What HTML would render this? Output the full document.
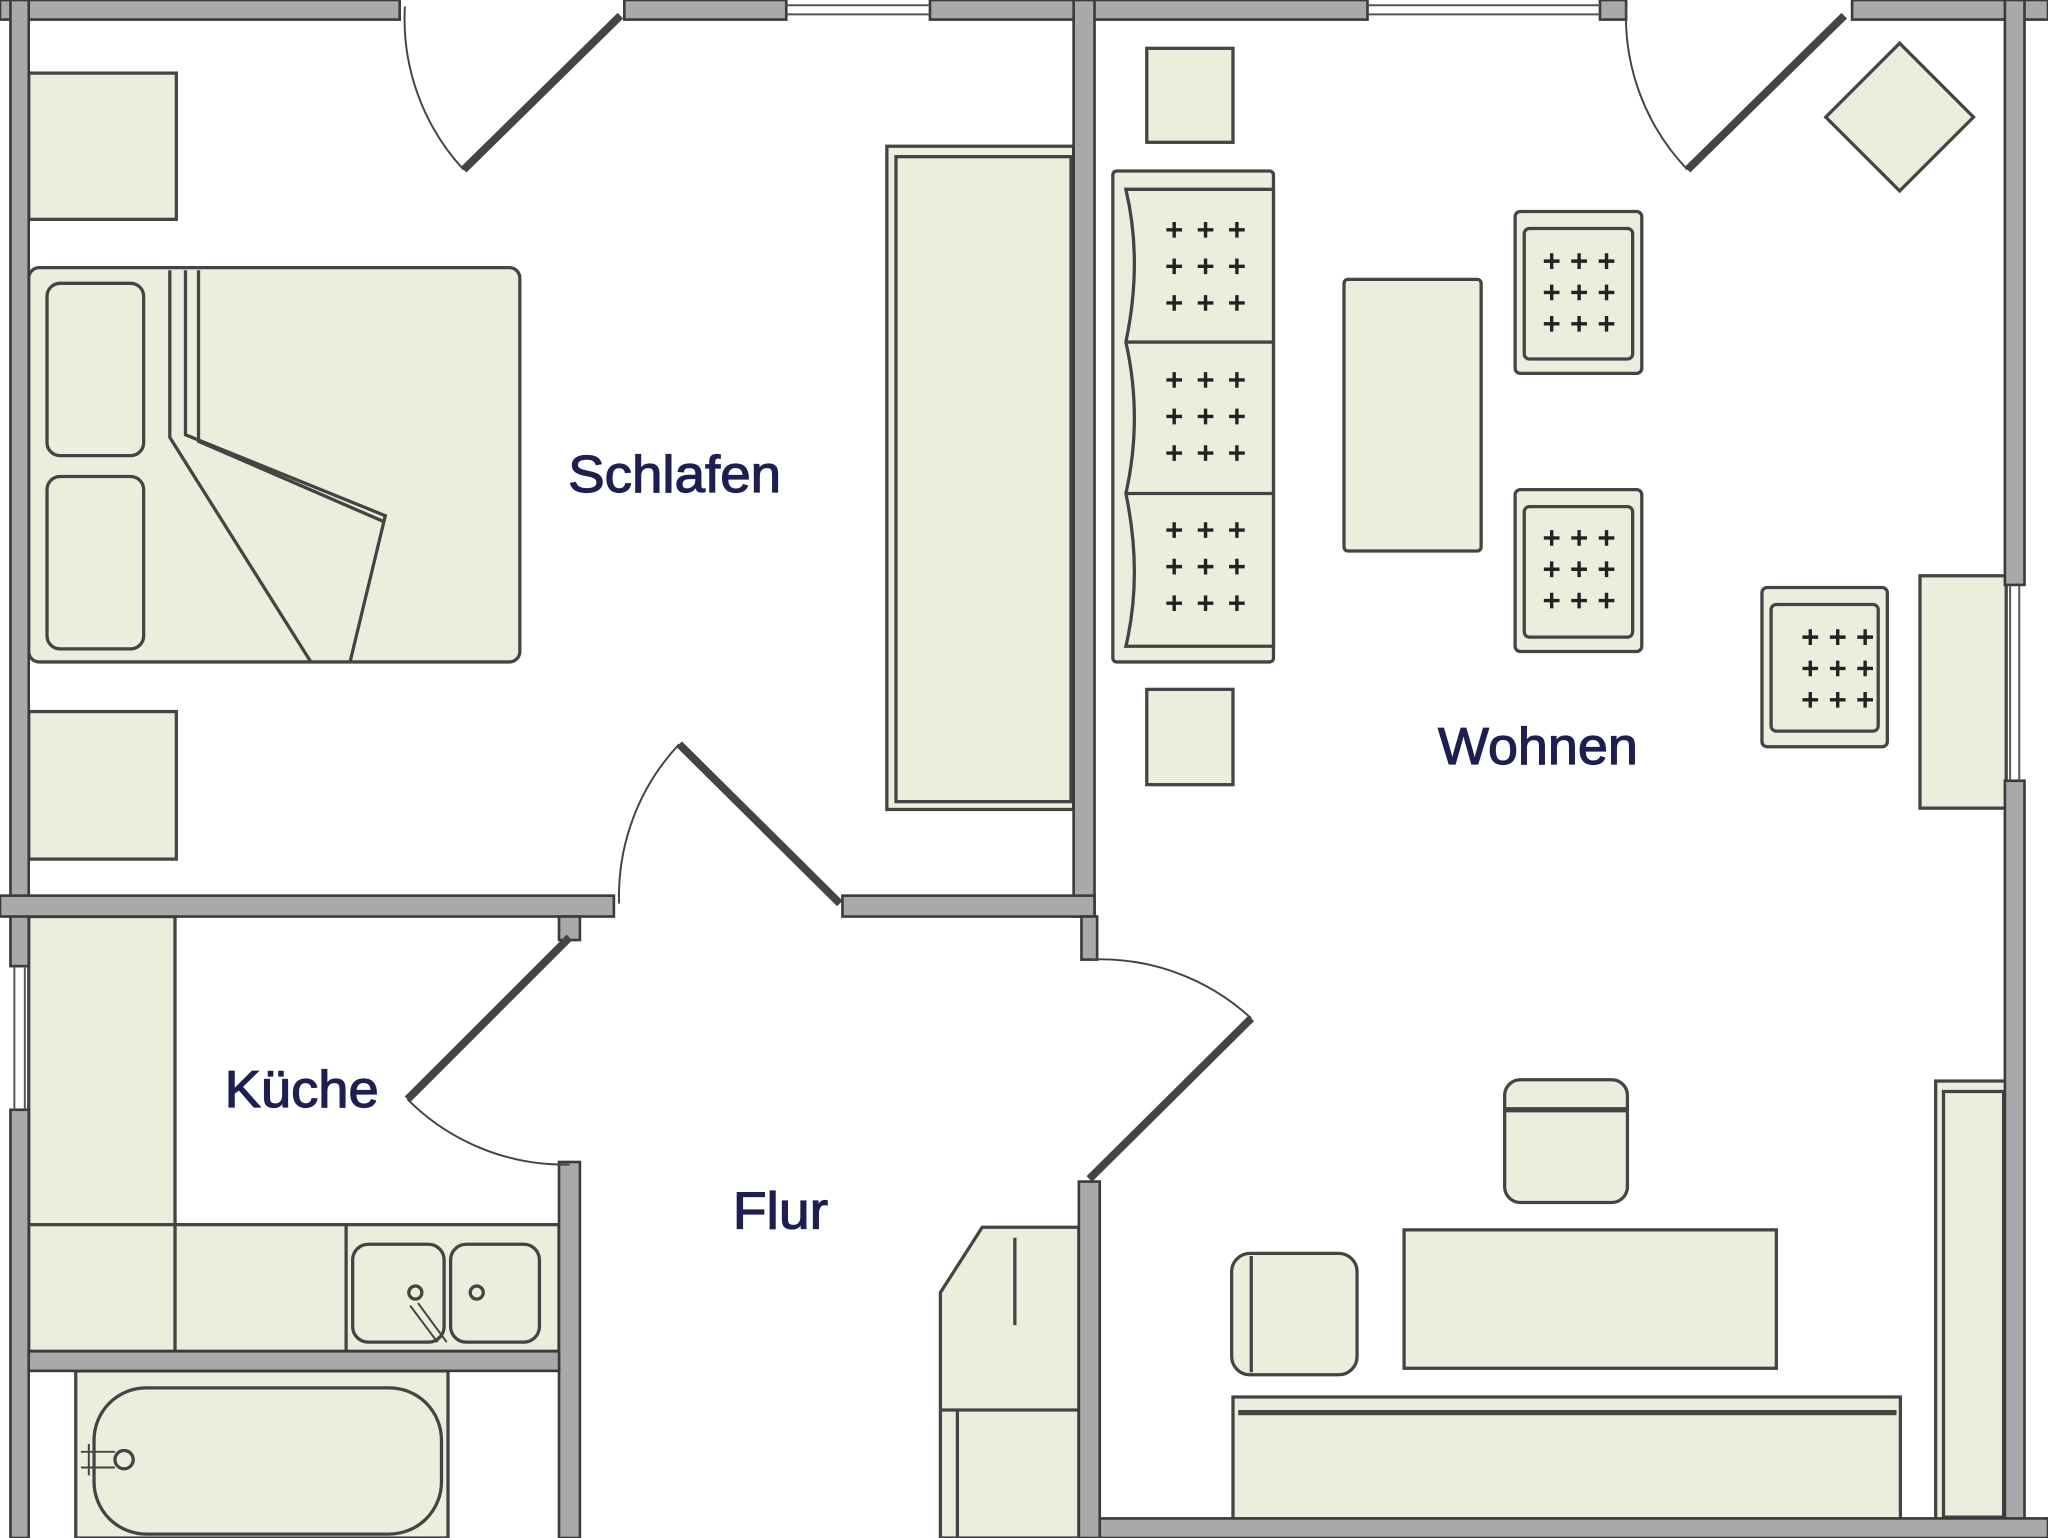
<!DOCTYPE html>
<html><head><meta charset="utf-8"><style>html,body{margin:0;padding:0;background:#fff}svg{display:block}</style></head>
<body>
<svg width="2048" height="1538" viewBox="0 0 1568 1178" preserveAspectRatio="none" xmlns="http://www.w3.org/2000/svg">
<defs>
<path id="p" d="M-6 0H6M0 -6V6" stroke="#222" stroke-width="2.6"/>
<g id="g3">
<use href="#p" x="0" y="0"/><use href="#p" x="24" y="0"/><use href="#p" x="48" y="0"/>
<use href="#p" x="0" y="28"/><use href="#p" x="24" y="28"/><use href="#p" x="48" y="28"/>
<use href="#p" x="0" y="56"/><use href="#p" x="24" y="56"/><use href="#p" x="48" y="56"/>
</g>
<g id="g2">
<use href="#p" x="0" y="0"/><use href="#p" x="21" y="0"/><use href="#p" x="42" y="0"/>
<use href="#p" x="0" y="24"/><use href="#p" x="21" y="24"/><use href="#p" x="42" y="24"/>
<use href="#p" x="0" y="48"/><use href="#p" x="21" y="48"/><use href="#p" x="42" y="48"/>
</g>
</defs>
<rect width="1568" height="1178" fill="#fff"/>
<g fill="#eaeedd" stroke="#444" stroke-width="2.5">
<rect x="22" y="56" width="113" height="112"/>
<rect x="22" y="545" width="113" height="113"/>
<rect x="22" y="205" width="376" height="302" rx="8"/>
<rect x="36" y="217" width="74" height="132" rx="10"/>
<rect x="36" y="365" width="74" height="132" rx="10"/>
<path d="M130 207 V335 L238 507" fill="none"/>
<path d="M142 207 V333 L295 395 L268 507" fill="none"/>
<path d="M152 207 V338 L295 400" fill="none"/>
<rect x="679" y="112" width="143" height="508"/>
<rect x="686" y="120" width="134" height="494" fill="none"/>
<rect x="878" y="37" width="66" height="72"/>
<rect x="878" y="528" width="66" height="73"/>
<rect x="852" y="131" width="123" height="376" rx="3"/>
<path d="M862 145 Q875 200 862 262 Q875 320 862 378 Q875 440 862 495 L975 495 L975 145 Z"/>
<path d="M862 262 H975 M862 378 H975" fill="none"/>
<rect x="1029" y="214" width="105" height="208" rx="3"/>
<rect x="1160" y="162" width="97" height="124" rx="4"/>
<rect x="1167" y="175" width="83" height="100" rx="4"/>
<rect x="1160" y="375" width="97" height="124" rx="4"/>
<rect x="1167" y="388" width="83" height="100" rx="4"/>
<rect x="1349" y="450" width="96" height="122" rx="4"/>
<rect x="1356" y="463" width="82" height="97" rx="4"/>
<rect x="1413" y="59" width="80" height="80" transform="rotate(45 1453 101) translate(-7 -7)"/>
<rect x="1470" y="441" width="66" height="178"/>
<rect x="1152" y="827" width="94" height="94" rx="12"/>
<path d="M1152 850 H1246" fill="none" stroke-width="4"/>
<rect x="943" y="960" width="96" height="93" rx="14"/>
<path d="M958 962 V1051" fill="none"/>
<rect x="1075" y="942" width="285" height="106"/>
<rect x="944" y="1070" width="511" height="98"/>
<path d="M948 1082 H1452" fill="none" stroke-width="4"/>
<rect x="1482" y="828" width="55" height="338"/>
<rect x="1488" y="836" width="46" height="326" fill="none"/>
<path d="M720 990 L752 940 H826 V1178 H720 Z"/>
<path d="M720 1080 H826 M777 948 V1015 M733 1080 V1178" fill="none"/>
<rect x="22" y="702" width="112" height="333"/>
<rect x="22" y="938" width="406" height="97"/>
<path d="M134 938 V1035 M265 938 V1035" fill="none"/>
<rect x="270" y="953" width="70" height="75" rx="12"/>
<rect x="345" y="953" width="68" height="75" rx="12"/>
<circle cx="318" cy="990" r="5" fill="none"/>
<circle cx="365" cy="990" r="5" fill="none"/>
<path d="M314 1000 L335 1028 M320 998 L342 1028" fill="none" stroke-width="1.5"/>
<rect x="58" y="1050" width="285" height="128"/>
<rect x="72" y="1063" width="266" height="112" rx="40" />
<circle cx="95" cy="1118" r="7" fill="none"/>
<path d="M62 1112 H88 M62 1124 H88 M68 1106 V1130" fill="none" stroke-width="1.5"/>
</g>
<use href="#g3" x="899" y="176"/>
<use href="#g3" x="899" y="291"/>
<use href="#g3" x="899" y="406"/>
<use href="#g2" x="1188" y="200"/>
<use href="#g2" x="1188" y="412"/>
<use href="#g2" x="1386" y="488"/>
<g fill="#a9a9a9" stroke="#3a3a3a" stroke-width="2">
<rect x="0" y="0" width="306" height="15"/>
<rect x="478" y="0" width="124" height="15"/>
<rect x="712" y="0" width="335" height="15"/>
<rect x="1225" y="0" width="20" height="15"/>
<rect x="1418" y="0" width="150" height="15"/>
<rect x="8" y="0" width="14" height="740"/>
<rect x="8" y="850" width="14" height="328"/>
<rect x="822" y="0" width="16" height="702"/>
<rect x="0" y="686" width="470" height="16"/>
<rect x="645" y="686" width="193" height="16"/>
<rect x="828" y="702" width="12" height="33"/>
<rect x="826" y="905" width="16" height="273"/>
<rect x="428" y="702" width="16" height="18"/>
<rect x="428" y="890" width="16" height="288"/>
<rect x="22" y="1035" width="406" height="15"/>
<rect x="1535" y="0" width="15" height="448"/>
<rect x="1535" y="598" width="15" height="580"/>
<rect x="842" y="1163" width="726" height="15"/>
</g>
<g stroke="#555" stroke-width="1.5" fill="none">
<path d="M602 4 H712 M602 11 H712 M1047 4 H1225 M1047 11 H1225 M11 740 V850 M19 740 V850 M1539 448 V598 M1546 448 V598"/>
</g>
<g stroke="#444" fill="none">
<path d="M310 5 A170 170 0 0 0 355 130" stroke-width="1.5"/>
<path d="M355 130 L475 12" stroke-width="6"/>
<path d="M1245 5 A170 170 0 0 0 1292 130" stroke-width="1.5"/>
<path d="M1292 130 L1412 12" stroke-width="6"/>
<path d="M474 692 A170 170 0 0 1 520 570" stroke-width="1.5"/>
<path d="M520 570 L643 692" stroke-width="6"/>
<path d="M436 718 L312 842" stroke-width="6"/>
<path d="M312 842 A170 170 0 0 0 436 892" stroke-width="1.5"/>
<path d="M834 735 A170 170 0 0 1 958 780" stroke-width="1.5"/>
<path d="M958 780 L834 903" stroke-width="6"/>
</g>
<g fill="#1e1e50" stroke="#1e1e50" stroke-width="0.9" font-family="Liberation Sans, sans-serif" font-size="40">
<text x="435" y="377" textLength="163" lengthAdjust="spacingAndGlyphs">Schlafen</text>
<text x="1101" y="585" textLength="153" lengthAdjust="spacingAndGlyphs">Wohnen</text>
<text x="172" y="848" textLength="118" lengthAdjust="spacingAndGlyphs">Küche</text>
<text x="561" y="941" textLength="73" lengthAdjust="spacingAndGlyphs">Flur</text>
</g>
</svg>
</body></html>
